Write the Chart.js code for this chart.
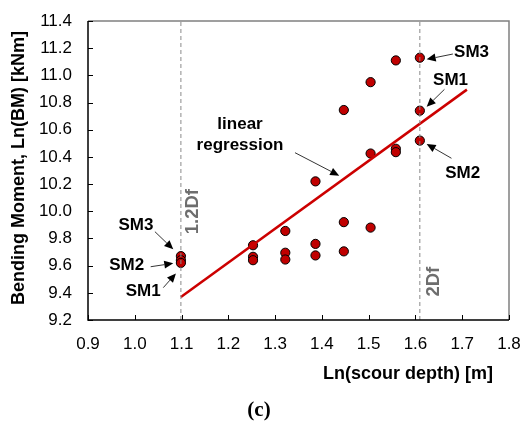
<!DOCTYPE html>
<html><head><meta charset="utf-8">
<script src="https://cdn.jsdelivr.net/npm/chart.js@4/dist/chart.umd.min.js"></script>
<style>html,body{margin:0;padding:0;background:#fff}#wrap{width:523px;height:425px;position:relative}</style>
</head><body><div id="wrap"><canvas id="c" width="523" height="425"></canvas></div>
<script>
// Ln(scour depth) for each scour case
const lnScour = [1.0986, 1.2528, 1.3218, 1.3863, 1.4469, 1.5041, 1.5581, 1.6094];
// Ln(BM) for each model
const sm1 = [9.62, 9.64, 9.645, 9.675, 9.705, 10.425, 10.435, 10.74];
const sm2 = [9.64, 9.665, 9.695, 9.76, 9.92, 9.88, 10.46, 10.52];
const sm3 = [9.67, 9.75, 9.855, 10.22, 10.745, 10.95, 11.11, 11.13];
// linear regression end points
const regX = [1.0986, 1.71];
const regY = [9.37, 10.895];
// reference depths (1.2Df and 2Df)
const refLines = [{x: 1.0986, label: '1.2Df'}, {x: 1.6094, label: '2Df'}];
const xTicks = [0.9, 1.0, 1.1, 1.2, 1.3, 1.4, 1.5, 1.6, 1.7, 1.8];
const yTicks = [9.2, 9.4, 9.6, 9.8, 10.0, 10.2, 10.4, 10.6, 10.8, 11.0, 11.2, 11.4];

const FONT = '"Liberation Sans", Arial, sans-serif';
const pts = (ys) => lnScour.map((x, i) => ({x, y: ys[i]}));
const ptStyle = {type: 'scatter', showLine: false, pointRadius: 4.6, pointBackgroundColor: '#C00000', pointBorderColor: '#000', pointBorderWidth: 1};

const overlay = {
  id: 'overlay',
  afterDraw(chart) {
    const ctx = chart.ctx, xs = chart.scales.x, ys = chart.scales.y, a = chart.chartArea;
    ctx.save();
    // frame: top/right gray
    ctx.strokeStyle = '#808080'; ctx.lineWidth = 1.5;
    ctx.beginPath(); ctx.moveTo(a.left, a.top); ctx.lineTo(a.right, a.top); ctx.lineTo(a.right, a.bottom); ctx.stroke();
    ctx.strokeStyle = '#000'; ctx.lineWidth = 1.5;
    ctx.beginPath(); ctx.moveTo(a.left, a.top); ctx.lineTo(a.left, a.bottom); ctx.lineTo(a.right, a.bottom); ctx.stroke();
    // inside ticks
    ctx.lineWidth = 1;
    xTicks.forEach(v => { const px = Math.round(xs.getPixelForValue(v)) + 0.5; ctx.beginPath(); ctx.moveTo(px, a.bottom); ctx.lineTo(px, a.bottom - 5); ctx.stroke(); });
    yTicks.forEach(v => { const py = Math.round(ys.getPixelForValue(v)) + 0.5; ctx.beginPath(); ctx.moveTo(a.left, py); ctx.lineTo(a.left + 5, py); ctx.stroke(); });
    // annotations
    const P = (x, y) => [xs.getPixelForValue(x), ys.getPixelForValue(y)];
    function arrow(x1, y1, x2, y2) {
      const [ax, ay] = P(x1, y1), [bx, by] = P(x2, y2);
      const ang = Math.atan2(by - ay, bx - ax), L = 9, W = 4;
      ctx.strokeStyle = '#000'; ctx.fillStyle = '#000'; ctx.lineWidth = 0.8;
      ctx.beginPath(); ctx.moveTo(ax, ay); ctx.lineTo(bx - Math.cos(ang) * L, by - Math.sin(ang) * L); ctx.stroke();
      ctx.beginPath(); ctx.moveTo(bx, by);
      ctx.lineTo(bx - Math.cos(ang) * L - Math.sin(ang) * W, by - Math.sin(ang) * L + Math.cos(ang) * W);
      ctx.lineTo(bx - Math.cos(ang) * L + Math.sin(ang) * W, by - Math.sin(ang) * L - Math.cos(ang) * W);
      ctx.closePath(); ctx.fill();
    }
    function label(t, x, y) {
      const [px, py] = P(x, y);
      ctx.fillStyle = '#000'; ctx.font = 'bold 17px ' + FONT; ctx.textAlign = 'center'; ctx.textBaseline = 'middle';
      ctx.fillText(t, px, py);
    }
    // right side
    label('SM3', 1.720, 11.172); arrow(1.680, 11.157, 1.624, 11.118);
    label('SM1', 1.675, 10.966); arrow(1.662, 10.897, 1.624, 10.769);
    label('SM2', 1.701, 10.282); arrow(1.677, 10.390, 1.624, 10.495);
    // left side
    label('SM3', 1.0026, 9.894); arrow(1.043, 9.850, 1.0823, 9.720);
    label('SM2', 0.9827, 9.599); arrow(1.034, 9.592, 1.0823, 9.617);
    label('SM1', 1.018, 9.408); arrow(1.061, 9.438, 1.088, 9.543);
    // regression
    const [lx, ly] = P(1.225, 10.642);
    ctx.font = 'bold 17px ' + FONT; ctx.textAlign = 'center'; ctx.textBaseline = 'middle';
    ctx.fillText('linear', lx, ly); ctx.fillText('regression', lx, ly + 21);
    arrow(1.3425, 10.431, 1.437, 10.262);
    // ref line labels (rotated)
    ctx.fillStyle = '#6e6e6e'; ctx.font = 'bold 18.5px ' + FONT;
    [[refLines[0], 1.125, 9.997], [refLines[1], 1.6396, 9.482]].forEach(([r, x, y]) => {
      const [px, py] = P(x, y);
      ctx.save(); ctx.translate(px, py); ctx.rotate(-Math.PI / 2); ctx.textAlign = 'center'; ctx.textBaseline = 'middle';
      ctx.fillText(r.label, 0, 0); ctx.restore();
    });
    // axis titles
    ctx.fillStyle = '#000'; ctx.font = 'bold 18px ' + FONT;
    ctx.save(); ctx.translate(19, 168); ctx.rotate(-Math.PI / 2); ctx.textAlign = 'center'; ctx.textBaseline = 'middle';
    ctx.fillText('Bending Moment, Ln(BM) [kNm]', 0, 0); ctx.restore();
    ctx.font = 'bold 18px ' + FONT; ctx.textAlign = 'center'; ctx.textBaseline = 'middle';
    ctx.fillText('Ln(scour depth) [m]', 408, 374);
    ctx.font = 'bold 21px "Liberation Serif", "Times New Roman", serif';
    ctx.fillText('(c)', 259, 411);
    ctx.restore();
  }
};

new Chart(document.getElementById('c'), {
  data: {
    datasets: [
      {type: 'line', label: 'ref1', data: [{x: refLines[0].x, y: 9.2}, {x: refLines[0].x, y: 11.4}], borderColor: '#8a8a8a', borderWidth: 1, borderDash: [4, 3], pointRadius: 0},
      {type: 'line', label: 'ref2', data: [{x: refLines[1].x, y: 9.2}, {x: refLines[1].x, y: 11.4}], borderColor: '#8a8a8a', borderWidth: 1, borderDash: [4, 3], pointRadius: 0},
      {type: 'line', label: 'reg', data: regX.map((x, i) => ({x, y: regY[i]})), borderColor: '#CC0000', borderWidth: 2.5, pointRadius: 0},
      Object.assign({label: 'SM1', data: pts(sm1)}, ptStyle),
      Object.assign({label: 'SM2', data: pts(sm2)}, ptStyle),
      Object.assign({label: 'SM3', data: pts(sm3)}, ptStyle)
    ]
  },
  options: {
    responsive: false, animation: false,
    layout: {padding: {left: 0, right: 14, top: 21, bottom: 0}},
    plugins: {legend: {display: false}, tooltip: {enabled: false}},
    scales: {
      x: {type: 'linear', min: 0.9, max: 1.8,
          afterBuildTicks: s => { s.ticks = xTicks.map(v => ({value: v})); },
          afterFit: s => { s.height = 105; s.paddingLeft = 0; s.paddingRight = 0; },
          grid: {display: false, drawTicks: false}, border: {display: false},
          ticks: {padding: 14, color: '#000', font: {family: FONT, size: 17}, callback: v => v.toFixed(1)}},
      y: {type: 'linear', min: 9.2, max: 11.4,
          afterBuildTicks: s => { s.ticks = yTicks.map(v => ({value: v})); },
          afterFit: s => { s.width = 88; s.paddingTop = 0; s.paddingBottom = 0; },
          grid: {display: false, drawTicks: false}, border: {display: false},
          ticks: {padding: 16, color: '#000', font: {family: FONT, size: 17}, callback: v => v.toFixed(1)}}
    }
  },
  plugins: [overlay]
});
</script></body></html>
